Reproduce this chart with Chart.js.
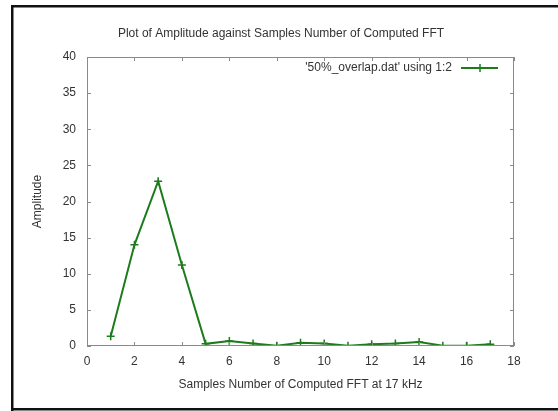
<!DOCTYPE html>
<html lang="en">
<head>
  <meta charset="UTF-8">
  <title>Amplitude vs Samples Number</title>
  <script src="https://cdn.jsdelivr.net/npm/chart.js@4.4.1/dist/chart.umd.min.js"></script>
  <style>
    html, body {
      margin: 0;
      padding: 0;
      background: #fff;
    }
    .wrap {
      position: relative;
      width: 558px;
      height: 411px;
    }
  </style>
</head>
<body>
  <div class="wrap">
    <canvas id="chart" width="558" height="411"></canvas>
  </div>
  <script>
    const samples = [1, 2, 3, 4, 5, 6, 7, 8, 9, 10, 11, 12, 13, 14, 15, 16, 17];
    const amplitude = [1.35, 14.0, 22.8, 11.2, 0.3, 0.7, 0.35, 0.05, 0.45, 0.35, 0.05, 0.25, 0.35, 0.55, 0.05, 0.05, 0.25];
    const xTicks = [0, 2, 4, 6, 8, 10, 12, 14, 16, 18];
    const yTicks = [0, 5, 10, 15, 20, 25, 30, 35, 40];
    const seriesLabel = "'50%_overlap.dat' using 1:2";
    const chartTitle = 'Plot of Amplitude against Samples Number of Computed FFT';

    const lineColor = '#1c7c1c';
    const axisColor = '#8a8a8a';
    const textColor = '#333';
    const fontFamily = '"Liberation Sans", Arial, sans-serif';

    // gnuplot-like decorations: frame, plot border, inward ticks, title and key
    const gnuplotLook = {
      id: 'gnuplotLook',
      afterDatasetsDraw(chart) {
        const ctx = chart.ctx;
        const a = chart.chartArea;
        const xs = chart.scales.x;
        const ys = chart.scales.y;
        ctx.save();

        // plot border
        ctx.strokeStyle = axisColor;
        ctx.lineWidth = 1;
        ctx.strokeRect(a.left + 0.5, a.top + 0.5, a.right - a.left - 1, a.bottom - a.top - 1);

        // inward ticks on all four sides
        const tl = 4;
        ctx.beginPath();
        xTicks.forEach(v => {
          const px = Math.round(xs.getPixelForValue(v)) + 0.5;
          ctx.moveTo(px, a.bottom);
          ctx.lineTo(px, a.bottom - tl);
          ctx.moveTo(px, a.top);
          ctx.lineTo(px, a.top + tl);
        });
        yTicks.forEach(v => {
          const py = Math.round(ys.getPixelForValue(v)) + 0.5;
          ctx.moveTo(a.left, py);
          ctx.lineTo(a.left + tl, py);
          ctx.moveTo(a.right, py);
          ctx.lineTo(a.right - tl, py);
        });
        ctx.stroke();

        // title
        ctx.fillStyle = textColor;
        ctx.font = '12px ' + fontFamily;
        ctx.textAlign = 'center';
        ctx.textBaseline = 'middle';
        ctx.fillText(chartTitle, 281, 34);

        // key (top right, inside plot)
        const ky = 68;
        ctx.textAlign = 'right';
        ctx.fillText(chart.data.datasets[0].label, 452, ky);
        ctx.strokeStyle = lineColor;
        ctx.lineWidth = 2;
        ctx.beginPath();
        ctx.moveTo(461, ky);
        ctx.lineTo(498, ky);
        ctx.stroke();
        ctx.lineWidth = 1.5;
        ctx.beginPath();
        ctx.moveTo(480, ky - 4);
        ctx.lineTo(480, ky + 4);
        ctx.stroke();

        // outer frame
        ctx.fillStyle = '#111';
        ctx.fillRect(11, 5, 558 - 11, 2.5);
        ctx.fillRect(11, 5, 2.5, 406);
        ctx.fillRect(11, 408, 558 - 11, 2.5);
        ctx.restore();
      }
    };

    const ctx = document.getElementById('chart').getContext('2d');
    new Chart(ctx, {
      type: 'line',
      data: {
        datasets: [{
          label: seriesLabel,
          data: samples.map((s, i) => ({ x: s, y: amplitude[i] })),
          borderColor: lineColor,
          backgroundColor: lineColor,
          borderWidth: 2,
          pointStyle: 'cross',
          pointRadius: 4,
          pointBorderWidth: 1.5,
          tension: 0,
          fill: false
        }]
      },
      options: {
        responsive: false,
        animation: false,
        layout: {
          padding: { left: 12, top: 57, right: 44, bottom: 0 }
        },
        plugins: {
          legend: { display: false },
          title: { display: false },
          tooltip: { enabled: false }
        },
        scales: {
          x: {
            type: 'linear',
            min: 0,
            max: 18,
            afterFit: s => { s.height = 65; },
            afterBuildTicks: s => { s.ticks = xTicks.map(v => ({ value: v })); },
            grid: { display: false, drawTicks: false },
            border: { display: false },
            ticks: {
              padding: 8,
              color: textColor,
              font: { family: fontFamily, size: 12 },
              maxRotation: 0
            },
            title: {
              display: true,
              text: 'Samples Number of Computed FFT at 17 kHz',
              color: textColor,
              font: { family: fontFamily, size: 12 },
              padding: { top: 0, bottom: 19 }
            }
          },
          y: {
            min: 0,
            max: 40,
            afterFit: s => { s.width = 75; },
            afterBuildTicks: s => { s.ticks = yTicks.map(v => ({ value: v })); },
            grid: { display: false, drawTicks: false },
            border: { display: false },
            ticks: {
              padding: 11,
              color: textColor,
              font: { family: fontFamily, size: 12 }
            },
            title: {
              display: true,
              text: 'Amplitude',
              color: textColor,
              font: { family: fontFamily, size: 12 },
              padding: { top: 18, bottom: 0 }
            }
          }
        }
      },
      plugins: [gnuplotLook]
    });
  </script>
</body>
</html>
